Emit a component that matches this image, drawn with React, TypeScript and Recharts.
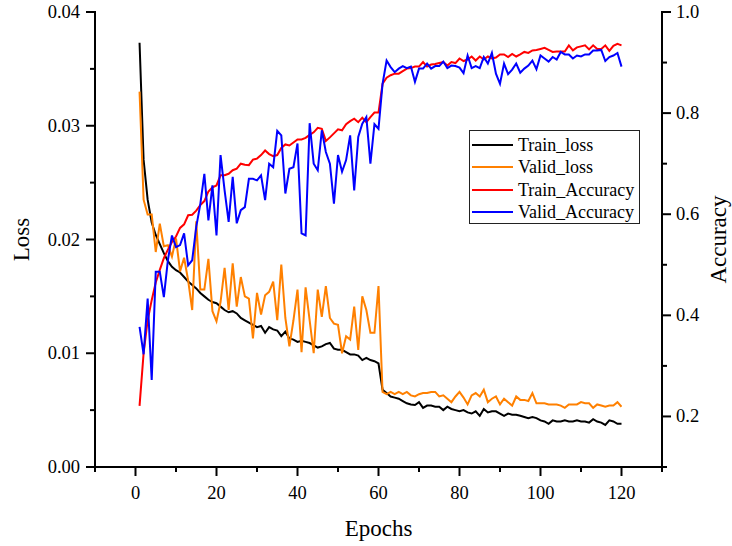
import React from 'react';
import { LineChart, Line, XAxis, YAxis, Legend } from 'recharts';

const epochs: number[] = Array.from({ length: 120 }, (_, i) => i + 1);

const trainLoss: number[] = [
  0.0373, 0.0270, 0.0235, 0.0215, 0.0204, 0.0196, 0.0188, 0.0181, 0.0176, 0.0173,
  0.0171, 0.0167, 0.0163, 0.0160, 0.0157, 0.0153, 0.0150, 0.0147, 0.0145, 0.0144,
  0.0141, 0.0138, 0.0136, 0.0137, 0.0135, 0.0131, 0.0129, 0.0127, 0.0125, 0.0123,
  0.0124, 0.0118, 0.0123, 0.0121, 0.0120, 0.0115, 0.0119, 0.0113, 0.0112, 0.0110,
  0.0111, 0.0110, 0.0109, 0.0107, 0.0105, 0.0106, 0.0108, 0.0109, 0.0104, 0.0103,
  0.0103, 0.0101, 0.0099, 0.0099, 0.0098, 0.0094, 0.0096, 0.0094, 0.0093, 0.0091,
  0.0068, 0.0065, 0.0062, 0.0061, 0.0060, 0.0058, 0.0056, 0.0055, 0.00545, 0.0057,
  0.0052, 0.0054, 0.0054, 0.0053, 0.0053, 0.0050, 0.0053, 0.0051, 0.0050, 0.0049,
  0.0050, 0.0048, 0.0047, 0.0049, 0.0045, 0.0051, 0.0048, 0.0049, 0.0049, 0.0047,
  0.0045, 0.0047, 0.0046, 0.0046, 0.0045, 0.0044, 0.0043, 0.0044, 0.0043, 0.0041,
  0.0040, 0.0038, 0.0041, 0.0040, 0.0040, 0.0041, 0.0040, 0.0040, 0.0041, 0.0040,
  0.0040, 0.0039, 0.0042, 0.0040, 0.0039, 0.0037, 0.0041, 0.0040, 0.0038, 0.0038,
];

const validLoss: number[] = [
  0.0330, 0.0235, 0.0222, 0.0222, 0.0189, 0.0214, 0.0194, 0.0195, 0.0185, 0.0201,
  0.0172, 0.0184, 0.0164, 0.0138, 0.0216, 0.0156, 0.0156, 0.0183, 0.0137, 0.0128,
  0.0145, 0.0175, 0.0138, 0.0179, 0.0141, 0.0167, 0.0150, 0.0148, 0.0113, 0.0153,
  0.0134, 0.0151, 0.0154, 0.0163, 0.0129, 0.0178, 0.0131, 0.0106, 0.0129, 0.0156,
  0.0101, 0.0158, 0.0129, 0.0100, 0.0156, 0.0132, 0.0159, 0.0131, 0.0126, 0.0125,
  0.0100, 0.0115, 0.0112, 0.0141, 0.0103, 0.0150, 0.0138, 0.0118, 0.0118, 0.0159,
  0.0066, 0.0064, 0.0066, 0.0064, 0.0066, 0.0064, 0.0066, 0.0063, 0.0062, 0.0064,
  0.0065, 0.0065, 0.0066, 0.0066, 0.0062, 0.0063, 0.0060, 0.0057, 0.0062, 0.0066,
  0.0061, 0.0055, 0.0063, 0.0065, 0.0062, 0.0068, 0.0057, 0.0060, 0.0062, 0.0055,
  0.0060, 0.0057, 0.0054, 0.0062, 0.0059, 0.0059, 0.0058, 0.0065, 0.0056, 0.0056,
  0.0056, 0.0055, 0.0055, 0.0055, 0.0054, 0.0052, 0.0055, 0.0055, 0.0055, 0.0057,
  0.0056, 0.0056, 0.0052, 0.0055, 0.0054, 0.0053, 0.0054, 0.0054, 0.0057, 0.0053,
];

const trainAcc: number[] = [
  0.221, 0.325, 0.390, 0.430, 0.465, 0.490, 0.513, 0.530, 0.545, 0.556,
  0.573, 0.580, 0.598, 0.599, 0.607, 0.618, 0.626, 0.645, 0.653, 0.657,
  0.677, 0.677, 0.680, 0.687, 0.690, 0.700, 0.698, 0.697, 0.708, 0.710,
  0.717, 0.726, 0.719, 0.715, 0.717, 0.731, 0.738, 0.736, 0.742, 0.748,
  0.748, 0.751, 0.757, 0.762, 0.771, 0.769, 0.745, 0.752, 0.760, 0.768,
  0.766, 0.778, 0.784, 0.789, 0.782, 0.791, 0.782, 0.792, 0.801, 0.801,
  0.858, 0.870, 0.875, 0.878, 0.878, 0.883, 0.888, 0.889, 0.892, 0.892,
  0.901, 0.892, 0.896, 0.897, 0.899, 0.901, 0.894, 0.901, 0.899, 0.908,
  0.903, 0.906, 0.912, 0.904, 0.912, 0.906, 0.912, 0.908, 0.910, 0.916,
  0.916, 0.911, 0.917, 0.912, 0.916, 0.921, 0.919, 0.924, 0.925, 0.927,
  0.929, 0.925, 0.921, 0.922, 0.922, 0.922, 0.934, 0.924, 0.930, 0.932,
  0.934, 0.926, 0.934, 0.927, 0.927, 0.934, 0.923, 0.933, 0.937, 0.934,
];

const validAcc: number[] = [
  0.377, 0.323, 0.433, 0.272, 0.486, 0.486, 0.436, 0.509, 0.558, 0.535,
  0.539, 0.562, 0.499, 0.509, 0.575, 0.620, 0.680, 0.588, 0.657, 0.558,
  0.717, 0.647, 0.585, 0.674, 0.582, 0.608, 0.614, 0.670, 0.670, 0.667,
  0.677, 0.628, 0.700, 0.693, 0.765, 0.756, 0.641, 0.690, 0.693, 0.740,
  0.562, 0.558, 0.780, 0.700, 0.687, 0.766, 0.723, 0.700, 0.621, 0.717,
  0.684, 0.707, 0.756, 0.647, 0.753, 0.779, 0.792, 0.700, 0.778, 0.769,
  0.858, 0.904, 0.891, 0.881, 0.888, 0.893, 0.889, 0.892, 0.862, 0.888,
  0.888, 0.898, 0.888, 0.893, 0.893, 0.902, 0.889, 0.894, 0.893, 0.890,
  0.879, 0.914, 0.889, 0.893, 0.889, 0.911, 0.898, 0.919, 0.878, 0.858,
  0.898, 0.877, 0.886, 0.898, 0.880, 0.888, 0.894, 0.904, 0.887, 0.914,
  0.908, 0.902, 0.911, 0.906, 0.921, 0.916, 0.916, 0.908, 0.914, 0.912,
  0.916, 0.916, 0.924, 0.924, 0.925, 0.903, 0.911, 0.914, 0.919, 0.892,
];

const xTicks: number[] = [-10, 0, 10, 20, 30, 40, 50, 60, 70, 80, 90, 100, 110, 120, 130];
const xLabelTicks: number[] = [0, 20, 40, 60, 80, 100, 120];
const lossTicks: number[] = [0, 0.005, 0.01, 0.015, 0.02, 0.025, 0.03, 0.035, 0.04];
const lossLabelTicks: number[] = [0, 0.01, 0.02, 0.03, 0.04];
const accTicks: number[] = [0.1, 0.2, 0.3, 0.4, 0.5, 0.6, 0.7, 0.8, 0.9, 1.0];
const accLabelTicks: number[] = [0.2, 0.4, 0.6, 0.8, 1.0];

const seriesNames = ['Train_loss', 'Valid_loss', 'Train_Accuracy', 'Valid_Accuracy'];
const seriesColors = ['#000000', '#FF8000', '#FF0000', '#0000FF'];

const data = epochs.map((e, i) => ({
  epoch: e,
  trainLoss: trainLoss[i],
  validLoss: validLoss[i],
  trainAcc: trainAcc[i],
  validAcc: validAcc[i],
}));

const FONT = 'Liberation Serif, Times New Roman, serif';
const W = 732;
const H = 546;
const PLOT_L = 95;
const PLOT_R = 662;
const PLOT_T = 12;
const PLOT_B = 467;
const TICK_FS = 18.5;
const TITLE_FS = 23;

const isIn = (arr: number[], v: number) => arr.some((a) => Math.abs(a - v) < 1e-9);

const BottomTick = (props: any) => {
  const { x, y, payload } = props;
  const v = payload.value;
  const major = isIn(xLabelTicks, v);
  return (
    <g>
      <line x1={x} y1={y} x2={x} y2={y + (major ? 9 : 5)} stroke="#000" strokeWidth={2} />
      {major && (
        <text x={x} y={y + 32} textAnchor="middle" fontSize={TICK_FS} fontFamily={FONT} fill="#000">
          {v}
        </text>
      )}
    </g>
  );
};

const TopTick = (props: any) => {
  const { x, y, payload } = props;
  const v = payload.value;
  const major = isIn(xLabelTicks, v);
  return <line x1={x} y1={y} x2={x} y2={y + (major ? 9 : 5)} stroke="#000" strokeWidth={2} />;
};

const LeftTick = (props: any) => {
  const { x, y, payload } = props;
  const v = payload.value;
  const major = isIn(lossLabelTicks, v);
  return (
    <g>
      <line x1={x} y1={y} x2={x - (major ? 9 : 5)} y2={y} stroke="#000" strokeWidth={2} />
      {major && (
        <text x={x - 15} y={y + 6} textAnchor="end" fontSize={TICK_FS} fontFamily={FONT} fill="#000">
          {v.toFixed(2)}
        </text>
      )}
    </g>
  );
};

const RightTick = (props: any) => {
  const { x, y, payload } = props;
  const v = payload.value;
  const major = isIn(accLabelTicks, v);
  return (
    <g>
      <line x1={x} y1={y} x2={x + (major ? 9 : 5)} y2={y} stroke="#000" strokeWidth={2} />
      {major && (
        <text x={x + 14} y={y + 6} textAnchor="start" fontSize={TICK_FS} fontFamily={FONT} fill="#000">
          {v.toFixed(1)}
        </text>
      )}
    </g>
  );
};

const axisLineStyle = { stroke: '#000', strokeWidth: 2, strokeLinecap: 'square' as const };

const LegendBox = () => (
  <div
    style={{
      width: 171,
      height: 94,
      border: '1px solid #222',
      boxSizing: 'border-box',
      background: '#fff',
      paddingTop: 3,
      fontFamily: FONT,
      fontSize: 18,
      color: '#000',
    }}
  >
    {seriesNames.map((n, i) => (
      <div key={n} style={{ display: 'flex', alignItems: 'center', height: 22.3, whiteSpace: 'nowrap' }}>
        <div style={{ width: 41, height: 2, background: seriesColors[i], marginLeft: 2, marginRight: 5 }} />
        <span style={{ lineHeight: '22px' }}>{n}</span>
      </div>
    ))}
  </div>
);

export default function App() {
  const midY = (PLOT_T + PLOT_B) / 2;
  return (
    <div style={{ position: 'absolute', left: 0, top: 0, width: W, height: H, background: '#fff' }}>
      <LineChart
        width={W}
        height={H}
        data={data}
        margin={{ top: PLOT_T, right: 0, bottom: 0, left: 0 }}
      >
        <XAxis
          xAxisId="bottom"
          dataKey="epoch"
          type="number"
          domain={[-10, 130]}
          ticks={xTicks}
          interval={0}
          tickSize={0}
          tickMargin={0}
          tickLine={false}
          tick={<BottomTick />}
          axisLine={axisLineStyle}
          height={H - PLOT_B}
          orientation="bottom"
          label={() => (
            <text x={(PLOT_L + PLOT_R) / 2} y={536} textAnchor="middle" fontSize={TITLE_FS} fontFamily={FONT} fill="#000">
              Epochs
            </text>
          )}
        />
        <XAxis
          xAxisId="top"
          dataKey="epoch"
          type="number"
          domain={[-10, 130]}
          ticks={xTicks}
          interval={0}
          tickSize={0}
          tickMargin={0}
          tickLine={false}
          tick={<TopTick />}
          axisLine={axisLineStyle}
          height={0}
          orientation="top"
        />
        <YAxis
          yAxisId="loss"
          orientation="left"
          type="number"
          domain={[0, 0.04]}
          ticks={lossTicks}
          interval={0}
          tickSize={0}
          tickMargin={0}
          tickLine={false}
          tick={<LeftTick />}
          axisLine={axisLineStyle}
          width={PLOT_L}
          label={() => (
            <text
              x={29}
              y={midY}
              textAnchor="middle"
              fontSize={TITLE_FS}
              fontFamily={FONT}
              fill="#000"
              transform={`rotate(-90, 29, ${midY})`}
            >
              Loss
            </text>
          )}
        />
        <YAxis
          yAxisId="acc"
          orientation="right"
          type="number"
          domain={[0.1, 1.0]}
          ticks={accTicks}
          interval={0}
          tickSize={0}
          tickMargin={0}
          tickLine={false}
          tick={<RightTick />}
          axisLine={axisLineStyle}
          width={W - PLOT_R}
          label={() => (
            <text
              x={726}
              y={midY}
              textAnchor="middle"
              fontSize={TITLE_FS}
              fontFamily={FONT}
              fill="#000"
              transform={`rotate(-90, 726, ${midY})`}
            >
              Accuracy
            </text>
          )}
        />
        <Legend
          layout="vertical"
          align="center"
          verticalAlign="middle"
          content={() => <LegendBox />}
          wrapperStyle={{ position: 'absolute', left: 469, top: 130, width: 171, height: 94 }}
        />
        <Line xAxisId="bottom" yAxisId="loss" type="linear" dataKey="trainLoss" stroke={seriesColors[0]} strokeWidth={2} dot={false} isAnimationActive={false} />
        <Line xAxisId="bottom" yAxisId="loss" type="linear" dataKey="validLoss" stroke={seriesColors[1]} strokeWidth={2} dot={false} isAnimationActive={false} />
        <Line xAxisId="bottom" yAxisId="acc" type="linear" dataKey="trainAcc" stroke={seriesColors[2]} strokeWidth={2} dot={false} isAnimationActive={false} />
        <Line xAxisId="bottom" yAxisId="acc" type="linear" dataKey="validAcc" stroke={seriesColors[3]} strokeWidth={2} dot={false} isAnimationActive={false} />
      </LineChart>
    </div>
  );
}
